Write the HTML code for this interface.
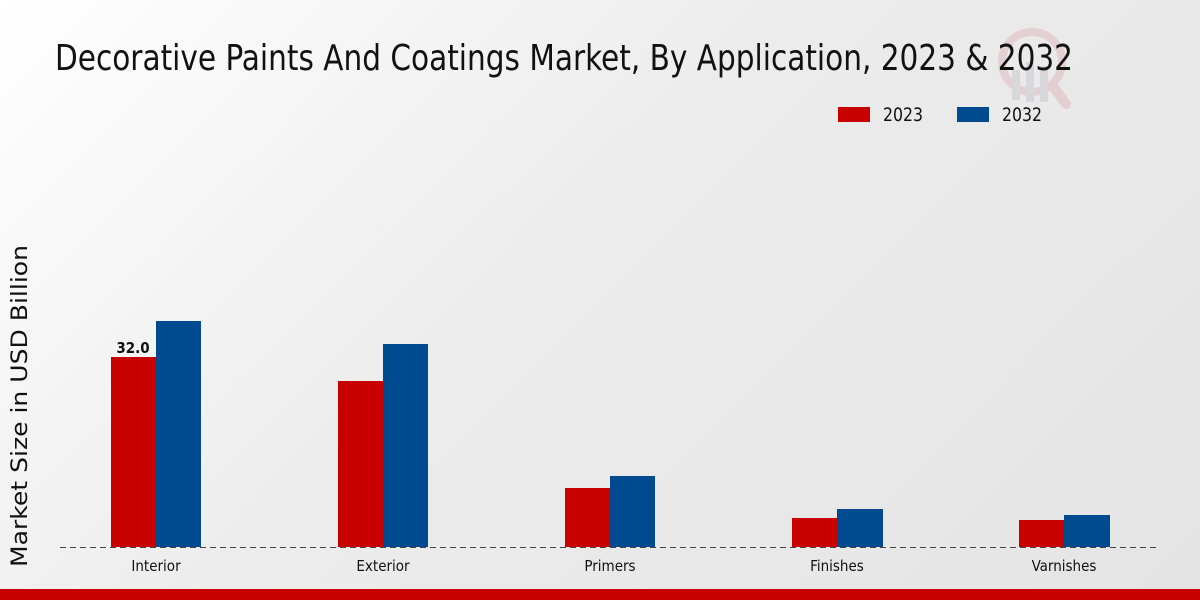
<!DOCTYPE html>
<html><head><style>
html,body{margin:0;padding:0;width:1200px;height:600px;overflow:hidden}
body{background:linear-gradient(135deg,#ffffff 0%,#ececec 45%,#e4e4e4 100%)}
</style></head><body>
<svg width="1200" height="600" xmlns="http://www.w3.org/2000/svg" style="position:absolute;left:0;top:0;font-family:'DejaVu Sans Condensed','DejaVu Sans','Liberation Sans',sans-serif">
<g opacity="0.35">
<circle cx="1032" cy="62" r="30" fill="none" stroke="#d9a0a8" stroke-width="8"/>
<line x1="1052" y1="85" x2="1066" y2="104" stroke="#d9a0a8" stroke-width="10" stroke-linecap="round"/>
<rect x="1012" y="70" width="8" height="30" fill="#b8b8c0"/>
<rect x="1026" y="62" width="8" height="40" fill="#b8b8c0"/>
<rect x="1040" y="66" width="8" height="36" fill="#b8b8c0"/>
</g>
<text x="55" y="70" font-size="36" textLength="1018" lengthAdjust="spacingAndGlyphs" fill="#111">Decorative Paints And Coatings Market, By Application, 2023 &amp; 2032</text>
<rect x="838" y="107" width="32" height="15" fill="#c80000"/>
<text x="883" y="121" font-size="19" textLength="40" lengthAdjust="spacingAndGlyphs" fill="#111">2023</text>
<rect x="957" y="107" width="32" height="15" fill="#004a8f"/>
<text x="1002" y="121" font-size="19" textLength="40" lengthAdjust="spacingAndGlyphs" fill="#111">2032</text>
<text transform="translate(27,406) rotate(-90)" font-size="22" text-anchor="middle" textLength="322" lengthAdjust="spacingAndGlyphs" style="font-family:'DejaVu Sans',sans-serif" fill="#111">Market Size in USD Billion</text>
<rect x="111" y="357" width="45" height="190" fill="#c80000"/>
<rect x="156" y="321" width="45" height="226" fill="#004a8f"/>
<rect x="338" y="381" width="45" height="166" fill="#c80000"/>
<rect x="383" y="344" width="45" height="203" fill="#004a8f"/>
<rect x="565" y="488" width="45" height="59" fill="#c80000"/>
<rect x="610" y="476" width="45" height="71" fill="#004a8f"/>
<rect x="792" y="518" width="45" height="29" fill="#c80000"/>
<rect x="837" y="509" width="46" height="38" fill="#004a8f"/>
<rect x="1019" y="520" width="45" height="27" fill="#c80000"/>
<rect x="1064" y="515" width="46" height="32" fill="#004a8f"/>
<line x1="60" y1="547.5" x2="1160" y2="547.5" stroke="#444" stroke-width="1" stroke-dasharray="6,4"/>
<text x="133" y="353" font-size="15" font-weight="bold" text-anchor="middle" fill="#111">32.0</text>
<g font-size="15" text-anchor="middle" fill="#111">
<text x="156" y="571">Interior</text>
<text x="383" y="571">Exterior</text>
<text x="610" y="571">Primers</text>
<text x="837" y="571">Finishes</text>
<text x="1064" y="571">Varnishes</text>
</g>
<rect x="0" y="589" width="1200" height="11" fill="#c80000"/>
</svg>
</body></html>
